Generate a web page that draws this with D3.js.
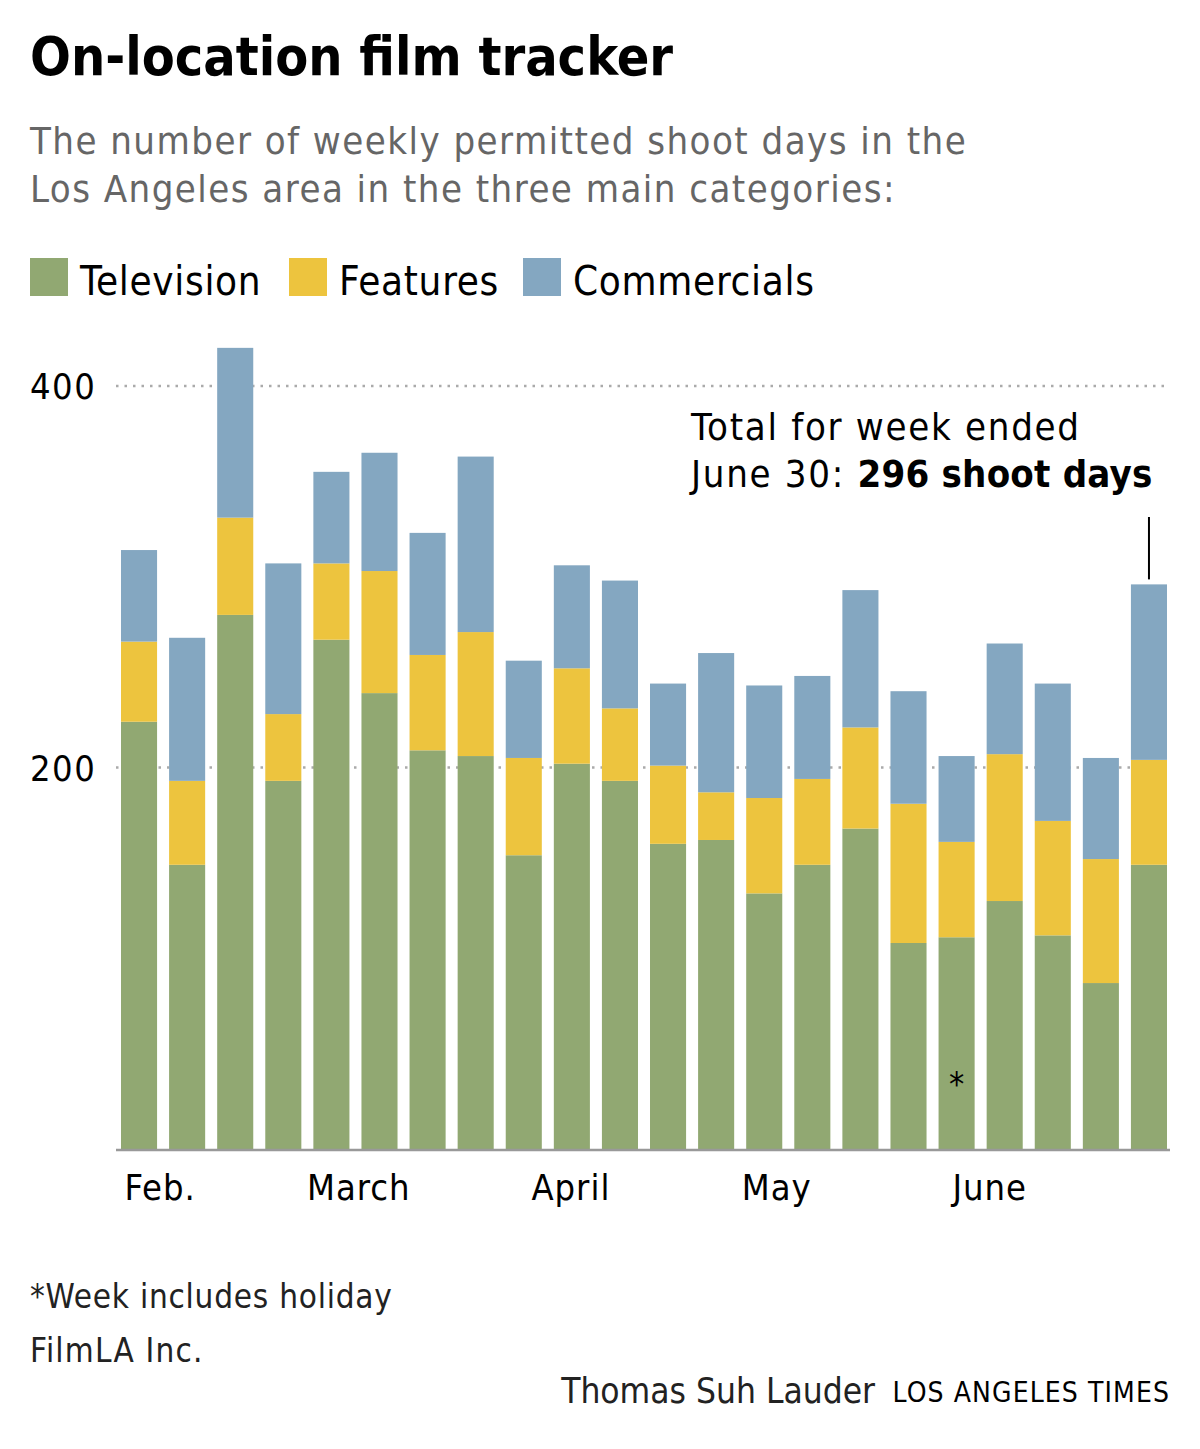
<!DOCTYPE html>
<html><head><meta charset="utf-8">
<script src="https://cdn.jsdelivr.net/npm/d3@7"></script>
<style>
body{margin:0;background:#fff;}
svg text{font-family:"Liberation Sans Narrow","DejaVu Sans Condensed","Roboto",sans-serif;}
</style></head>
<body><svg id="c" width="1200" height="1449"></svg>
<script>
const weeks = d3.range(22).map(i => "W" + (i + 1));
const television = [224,149,280,193,267,239,209,206,154,202,193,160,162,134,149,168,108,111,130,112,87,149];
const features   = [42,44,51,35,40,64,50,65,51,50,38,41,25,50,45,53,73,50,77,60,65,55];
const commercials= [48,75,89,79,48,62,64,92,51,54,67,43,73,59,54,72,59,45,58,72,53,92];
const seriesNames = ["Television","Features","Commercials"];
const seriesColors = ["#91a872","#edc43e","#84a7c1"];
const yTicks = [200,400];
const monthLabels = ["Feb.","March","April","May","June"];
const monthPos = [0.44,4.57,8.98,13.26,17.69];
const holidayIndex = 17;

const svg = d3.select("#c");
const plotLeft = 121, plotRight = 1167, plotBottom = 1149;

const x = d3.scaleBand().domain(weeks).range([plotLeft, plotRight]).paddingInner(0.25).paddingOuter(0);
const y = d3.scaleLinear().domain([0, 400]).range([plotBottom, 386]);
const xc = d3.scaleLinear().domain([0, 21]).range([x(weeks[0]) + x.bandwidth()/2, x(weeks[21]) + x.bandwidth()/2]);

// title
svg.append("text").attr("x",30).attr("y",75).attr("font-size",53.5).attr("font-weight","bold").attr("fill","#000").text("On-location film tracker");
svg.append("text").attr("x",30).attr("y",154).attr("font-size",38).attr("letter-spacing",1.45).attr("fill","#666").text("The number of weekly permitted shoot days in the");
svg.append("text").attr("x",30).attr("y",202).attr("font-size",38).attr("letter-spacing",1.45).attr("fill","#666").text("Los Angeles area in the three main categories:");

// legend
const legX = [30,289,523];
seriesNames.forEach((n,i)=>{
  svg.append("rect").attr("x",legX[i]).attr("y",258).attr("width",38).attr("height",38).attr("fill",seriesColors[i]);
  svg.append("text").attr("x",legX[i]+50).attr("y",295).attr("font-size",40).attr("letter-spacing",0.7).attr("fill","#000").text(n);
});

// grid
const grid = svg.append("g");
yTicks.forEach(t=>{
  grid.append("line").attr("x1",116).attr("x2",1170).attr("y1",y(t)).attr("y2",y(t))
    .attr("stroke","#aaa").attr("stroke-width",2.5).attr("stroke-dasharray","2.5,6");
  grid.append("text").attr("x",30).attr("y",y(t)+13).attr("font-size",36).attr("letter-spacing",1.5).attr("fill","#000").text(t);
});

// stacked bars
const data = weeks.map((w,i)=>({week:w, Television:television[i], Features:features[i], Commercials:commercials[i]}));
const stack = d3.stack().keys(seriesNames)(data);
svg.append("g").selectAll("g").data(stack).join("g").attr("fill",(d,i)=>seriesColors[i])
  .selectAll("rect").data(d=>d).join("rect")
  .attr("x",d=>x(d.data.week)).attr("width",x.bandwidth())
  .attr("y",d=>y(d[1])).attr("height",d=>y(d[0])-y(d[1]));

// baseline
svg.append("line").attr("x1",116).attr("x2",1170).attr("y1",plotBottom+1).attr("y2",plotBottom+1).attr("stroke","#999").attr("stroke-width",2.5);

// month labels
monthLabels.forEach((m,i)=>{
  svg.append("text").attr("x",xc(monthPos[i])).attr("y",1200).attr("text-anchor","middle").attr("font-size",36).attr("letter-spacing",1).attr("fill","#000").text(m);
});

// holiday asterisk
svg.append("text").attr("x",xc(holidayIndex)).attr("y",1096).attr("text-anchor","middle").attr("font-size",34).attr("fill","#000").text("*");

// annotation
const lastTotal = television[21]+features[21]+commercials[21];
svg.append("text").attr("x",691).attr("y",440).attr("font-size",38).attr("letter-spacing",1.7).attr("fill","#000").text("Total for week ended");
const a2 = svg.append("text").attr("x",691).attr("y",487).attr("font-size",38).attr("fill","#000");
a2.append("tspan").attr("letter-spacing",1.7).text("June 30: ");
a2.append("tspan").attr("font-weight","bold").attr("letter-spacing",0.2).text(lastTotal + " shoot days");
svg.append("line").attr("x1",xc(21)).attr("x2",xc(21)).attr("y1",517).attr("y2",y(lastTotal)-5).attr("stroke","#000").attr("stroke-width",2);

// footer
svg.append("text").attr("x",30).attr("y",1308).attr("font-size",33).attr("letter-spacing",0.75).attr("fill","#222").text("*Week includes holiday");
svg.append("text").attr("x",30).attr("y",1362).attr("font-size",33).attr("letter-spacing",1.2).attr("fill","#222").text("FilmLA Inc.");
svg.append("text").attr("x",1170).attr("y",1402).attr("text-anchor","end").attr("font-size",28).attr("letter-spacing",1.1).attr("fill","#000").text("LOS ANGELES TIMES");
svg.append("text").attr("x",875).attr("y",1403).attr("text-anchor","end").attr("font-size",35).attr("fill","#222").text("Thomas Suh Lauder");
</script></body></html>
